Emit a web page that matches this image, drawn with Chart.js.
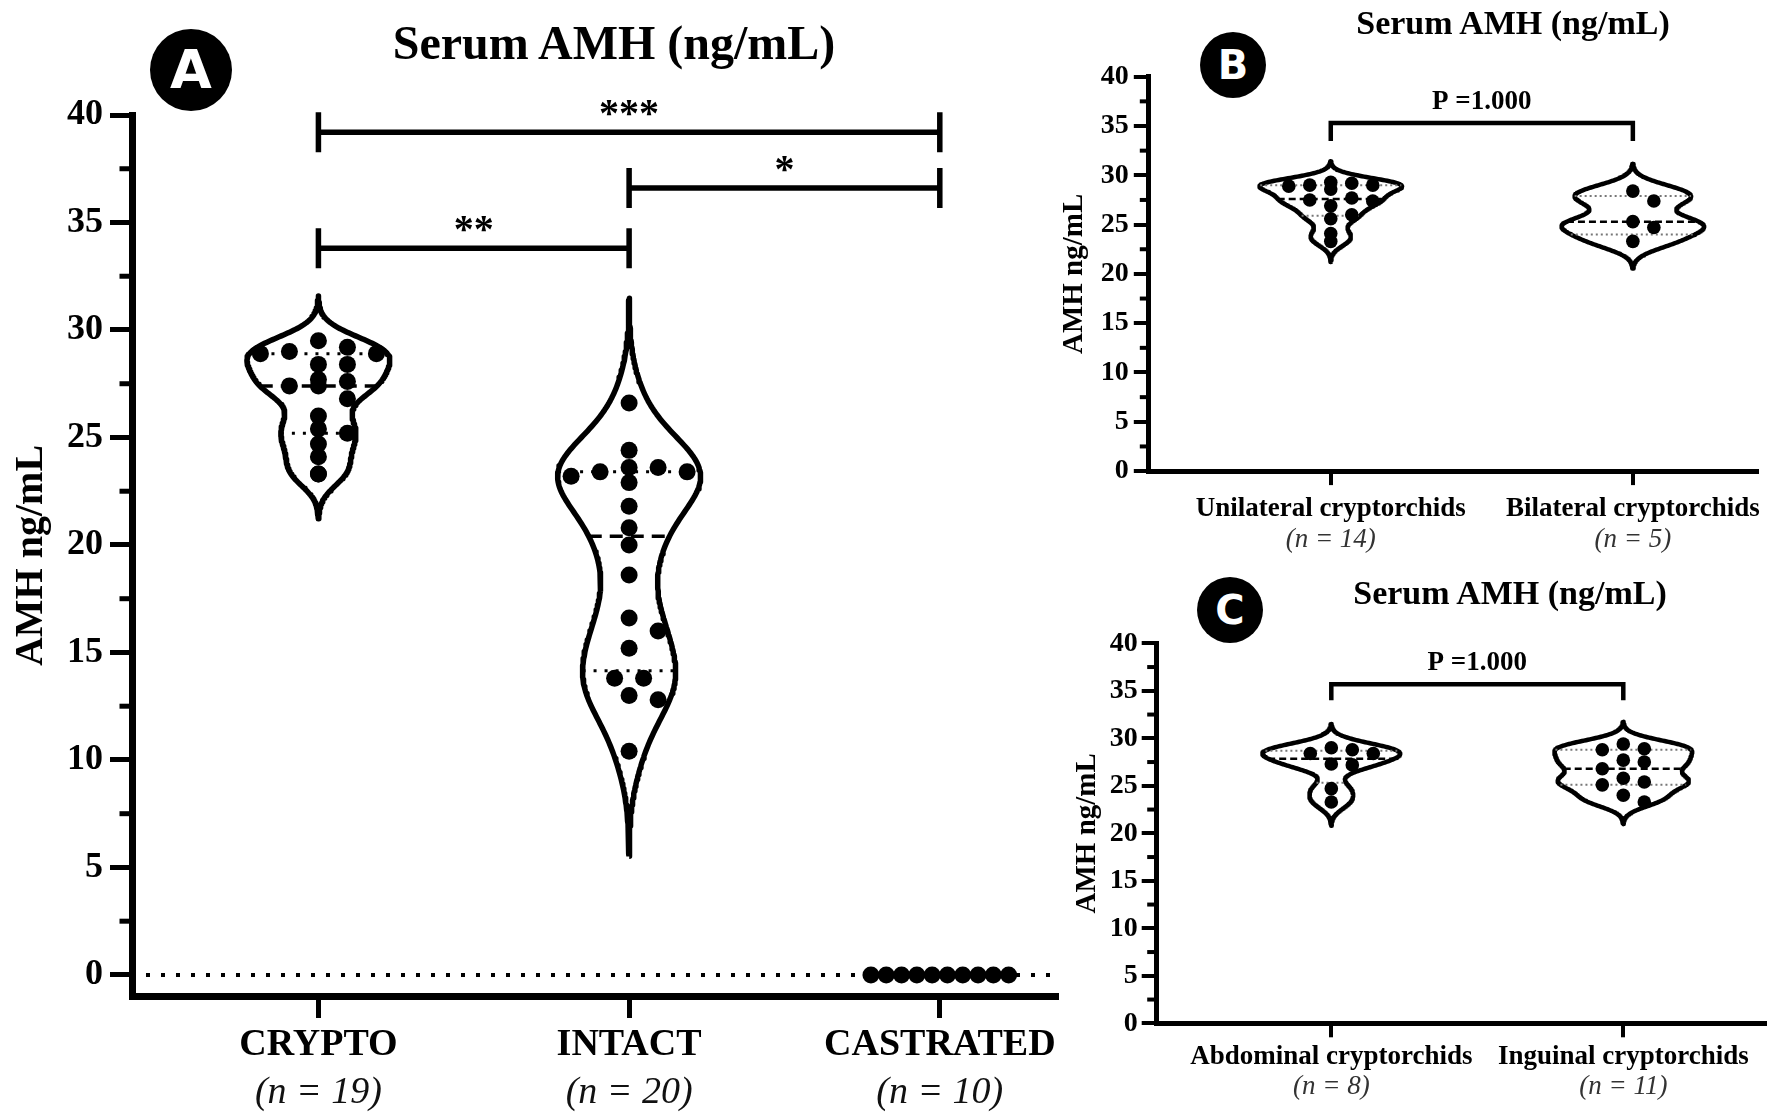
<!DOCTYPE html>
<html>
<head>
<meta charset="utf-8">
<script src="https://cdn.jsdelivr.net/npm/chart.js@4.4.1/dist/chart.umd.min.js"></script>
<style>
  html, body { margin: 0; padding: 0; background: #fff; }
  body { width: 1772px; height: 1119px; position: relative; overflow: hidden; }
  canvas { position: absolute; }
  .title { position: absolute; transform: translate(-50%, -50%); font-family: "Liberation Serif", serif;
           font-weight: bold; white-space: nowrap; line-height: 1; color: #000; }
  .badge { position: absolute; border-radius: 50%; background: #000; color: #fff;
           font-family: "DejaVu Sans", sans-serif; font-weight: bold;
           display: flex; align-items: center; justify-content: center; line-height: 1; }
</style>
</head>
<body>
<canvas id="chartA" width="1100" height="1119" style="left:0;top:0"></canvas>
<canvas id="chartB" width="722" height="562" style="left:1050px;top:0"></canvas>
<canvas id="chartC" width="722" height="559" style="left:1050px;top:560px"></canvas>

<div class="title" style="left:614px; top:43px; font-size:48px">Serum AMH (ng/mL)</div>
<div class="badge" style="left:150px; top:29px; width:82px; height:82px; font-size:54px">A</div>
<div class="title" style="left:1513px; top:23px; font-size:34px">Serum AMH (ng/mL)</div>
<div class="badge" style="left:1200px; top:32px; width:66px; height:66px; font-size:40px">B</div>
<div class="title" style="left:1510px; top:593px; font-size:34px">Serum AMH (ng/mL)</div>
<div class="badge" style="left:1197px; top:577px; width:66px; height:66px; font-size:40px">C</div>

<script>
// values (ng/mL)
const yTicks = [0, 5, 10, 15, 20, 25, 30, 35, 40];
const yMinorTicks = [2.5, 7.5, 12.5, 17.5, 22.5, 27.5, 32.5, 37.5];

const groupsA = ["CRYPTO", "INTACT", "CASTRATED"];
const countsA = ["(n = 19)", "(n = 20)", "(n = 10)"];
const crypto = [29.0, 29.5, 28.9, 29.2, 28.9, 28.4, 28.4, 27.7, 27.4, 27.4, 27.6, 26.8, 26.0, 25.2, 25.4, 24.7, 24.1, 23.3, 23.3];
const intact = [26.6, 24.4, 23.6, 23.4, 23.2, 23.6, 23.4, 22.9, 21.8, 20.8, 20.0, 18.6, 16.6, 16.0, 15.2, 13.8, 13.8, 13.0, 12.8, 10.4];
const castrated = [0, 0, 0, 0, 0, 0, 0, 0, 0, 0];

const groupsB = ["Unilateral cryptorchids", "Bilateral cryptorchids"];
const countsB = ["(n = 14)", "(n = 5)"];
const unilateral = [29.0, 29.0, 29.2, 29.3, 28.9, 28.6, 27.4, 27.7, 27.5, 26.9, 26.0, 25.6, 24.1, 23.3];
const bilateral = [28.4, 27.4, 25.3, 24.7, 23.3];

const groupsC = ["Abdominal cryptorchids", "Inguinal cryptorchids"];
const countsC = ["(n = 8)", "(n = 11)"];
const abdominal = [28.4, 28.8, 29.0, 28.4, 27.2, 27.3, 24.7, 23.3];
const inguinal = [28.8, 28.9, 29.4, 27.5, 27.7, 26.8, 25.8, 25.4, 25.1, 24.0, 23.3];

const SERIF = '"Liberation Serif", serif';
const SMOOTH = 0.68;

function stats(values) {
  const s = [...values].sort((a, b) => a - b);
  const n = s.length;
  const q = (p) => {
    const pos = (n + 1) * p;
    if (pos <= 1) return s[0];
    if (pos >= n) return s[n - 1];
    const i = Math.floor(pos);
    return s[i - 1] + (pos - i) * (s[i] - s[i - 1]);
  };
  const mean = s.reduce((a, b) => a + b, 0) / n;
  const sd = Math.sqrt(s.reduce((a, b) => a + (b - mean) ** 2, 0) / (n - 1));
  return { s, n, q1: q(0.25), med: q(0.5), q3: q(0.75), sd };
}

// gaussian kde outline, widest point scaled to `half` category units
function violin(values, center, half) {
  const st = stats(values);
  if (st.sd === 0) return null;
  const h = SMOOTH * 0.9 * Math.min(st.sd, (st.q3 - st.q1) / 1.34) * Math.pow(st.n, -0.2);
  const dens = (y) => st.s.reduce((a, v) => a + Math.exp(-0.5 * ((y - v) / h) ** 2), 0);
  const lo = st.s[0] - 3 * h;
  const hi = st.s[st.n - 1] + 3 * h;
  const ys = Array.from({ length: 241 }, (_, i) => lo + ((hi - lo) * i) / 240);
  const dmax = Math.max(...ys.map(dens));
  const w = (y) => (half * dens(y)) / dmax;
  const right = ys.map((y) => ({ x: center + w(y), y }));
  const left = ys.slice().reverse().map((y) => ({ x: center - w(y), y }));
  return { ...st, w, outline: right.concat(left, [right[0]]) };
}

const annotate = {
  id: "annotate",
  beforeDatasetsDraw(chart, args, opts) {
    if (!opts.zeroLine) return;
    const { ctx, chartArea, scales } = chart;
    const py = scales.y.getPixelForValue(0);
    ctx.save();
    ctx.strokeStyle = "#000";
    ctx.lineWidth = 4;
    ctx.setLineDash([4, 11]);
    ctx.beginPath();
    ctx.moveTo(chartArea.left + opts.zeroLine, py);
    ctx.lineTo(chartArea.right + 2, py);
    ctx.stroke();
    ctx.restore();
  },
  afterDraw(chart, args, opts) {
    const { ctx, chartArea, scales } = chart;
    const x = scales.x, y = scales.y;
    ctx.save();
    ctx.strokeStyle = "#000";
    ctx.fillStyle = "#000";

    // one minor tick between labelled ticks
    ctx.lineWidth = opts.tickWidth;
    yMinorTicks.forEach((v) => {
      const py = y.getPixelForValue(v);
      ctx.beginPath();
      ctx.moveTo(chartArea.left - opts.minorLen, py);
      ctx.lineTo(chartArea.left, py);
      ctx.stroke();
    });

    // significance brackets
    opts.brackets.forEach((b) => {
      const x1 = x.getPixelForValue(b.from);
      const x2 = x.getPixelForValue(b.to);
      const py = y.getPixelForValue(b.y);
      ctx.lineWidth = opts.bracketWidth;
      ctx.lineCap = "butt";
      ctx.lineJoin = "miter";
      ctx.beginPath();
      if (opts.capBoth) {
        ctx.moveTo(x1, py); ctx.lineTo(x2, py);
        ctx.moveTo(x1, py - opts.cap); ctx.lineTo(x1, py + opts.cap);
        ctx.moveTo(x2, py - opts.cap); ctx.lineTo(x2, py + opts.cap);
      } else {
        ctx.moveTo(x1, py + opts.cap);
        ctx.lineTo(x1, py);
        ctx.lineTo(x2, py);
        ctx.lineTo(x2, py + opts.cap);
      }
      ctx.stroke();
      ctx.font = opts.font;
      ctx.textAlign = "center";
      ctx.textBaseline = "alphabetic";
      ctx.fillText(b.text, (x1 + x2) / 2, py - opts.lift);
    });
    ctx.restore();
  },
};

// beeswarm the dots in pixel space, kept inside the violin where possible
function placeSwarm(chart, swarms, collide) {
  const xs = chart.scales.x, ys = chart.scales.y;
  const unit = xs.getPixelForValue(1) - xs.getPixelForValue(0);
  swarms.forEach((sw) => {
    const { values, center, step, w, r } = sw;
    const placed = [];
    const ks = [];
    const order = values.map((_, i) => i).sort((a, b) => values[b] - values[a]);
    order.forEach((i) => {
      const py = ys.getPixelForValue(values[i]);
      const room = w ? Math.max(0, (w(values[i]) * unit - r) / step) : Infinity;
      const gap = (k) => Math.min(Infinity, ...placed.filter((p) => Math.abs(p.k - k) < 0.9).map((p) => Math.abs(p.py - py)));
      let best = 0, bestGap = -1;
      for (let j = 0; j < 40; j++) {
        const k = j % 2 ? (j + 1) / 2 : -j / 2;
        if (j > 0 && Math.abs(k) > room) continue;
        const g = gap(k);
        if (g >= collide) { best = k; break; }
        if (g > bestGap) { best = k; bestGap = g; }
      }
      ks[i] = best;
      placed.push({ k: best, py });
    });

    // centre runs of identical values
    const byVal = {};
    values.forEach((v, i) => (byVal[v] = byVal[v] || []).push(i));
    Object.values(byVal).forEach((idx) => {
      if (idx.length < 2) return;
      const m = idx.reduce((a, i) => a + ks[i], 0) / idx.length;
      if (m === 0) return;
      const py = ys.getPixelForValue(values[idx[0]]);
      const clash = values.some((v, j) => !idx.includes(j) &&
        idx.some((i) => Math.abs(ks[j] - (ks[i] - m)) < 0.9 && Math.abs(ys.getPixelForValue(v) - py) < collide));
      if (!clash) idx.forEach((i) => { ks[i] -= m; });
    });

    sw.ds.data = values.map((v, i) => ({ x: center + (ks[i] * step) / unit, y: v }));
  });
  chart.update("none");
}

function buildPanel(canvasId, p) {
  const s = p.style;
  const datasets = [];
  const swarms = [];

  p.groups.forEach((values, gi) => {
    const center = gi + 1;
    const v = violin(values, center, s.half);
    const dots = {
      data: values.map((y) => ({ x: center, y })),
      pointRadius: s.dot,
      pointBackgroundColor: "#000",
      pointBorderWidth: 0,
      order: 0,
    };
    datasets.push(dots);
    swarms.push({ ds: dots, values, center, step: v ? s.step : s.flatStep, w: v ? v.w : null, r: s.dot });
    if (!v) return;

    datasets.push({
      data: v.outline,
      showLine: true,
      pointRadius: 0,
      borderColor: "#000",
      borderWidth: s.outline,
      borderJoinStyle: "round",
      tension: 0,
      fill: false,
      order: 3,
    });
    [[v.q1, false], [v.q3, false], [v.med, true]].forEach(([yv, isMed]) => {
      datasets.push({
        data: [{ x: center - v.w(yv), y: yv }, { x: center + v.w(yv), y: yv }],
        showLine: true,
        pointRadius: 0,
        borderColor: isMed ? "#000" : s.qColor,
        borderWidth: isMed ? s.medWidth : s.qWidth,
        borderDash: isMed ? s.medDash : s.qDash,
        order: 2,
      });
    });
  });

  const catTicks = (axis) => { axis.ticks = p.labels.map((_, i) => ({ value: i + 1 })); };

  const chart = new Chart(document.getElementById(canvasId), {
    type: "scatter",
    data: { datasets },
    options: {
      responsive: false,
      animation: false,
      events: [],
      layout: { padding: p.padding },
      plugins: {
        legend: { display: false },
        tooltip: { enabled: false },
        annotate: p.annot,
      },
      scales: {
        x: {
          type: "linear",
          position: "bottom",
          min: p.xMin,
          max: p.xMax,
          afterBuildTicks: catTicks,
          afterFit: (a) => { a.height = s.xh; },
          border: { display: true, color: "#000", width: s.axisW },
          grid: { display: true, drawOnChartArea: false, drawTicks: true, tickLength: s.xTick,
                  tickWidth: s.tickW, lineWidth: s.tickW, color: "#000", tickColor: "#000" },
          ticks: {
            callback: (val) => p.labels[val - 1],
            font: { family: SERIF, weight: "bold", size: s.xFont, lineHeight: s.labelLH },
            color: "#000",
            padding: s.xPad,
            maxRotation: 0,
            autoSkip: false,
          },
        },
        x2: {
          type: "linear",
          position: "bottom",
          weight: 1,
          min: p.xMin,
          max: p.xMax,
          afterBuildTicks: catTicks,
          afterFit: (a) => { a.height = s.x2h; },
          border: { display: false },
          grid: { display: false, drawTicks: false },
          ticks: {
            callback: (val) => p.counts[val - 1],
            font: { family: SERIF, style: "italic", size: s.nFont, lineHeight: s.labelLH },
            color: s.nColor,
            padding: s.x2Pad,
            maxRotation: 0,
            autoSkip: false,
          },
        },
        y: {
          min: p.yMin,
          max: 40,
          afterBuildTicks: (a) => { a.ticks = yTicks.map((v) => ({ value: v })); },
          afterFit: (a) => { a.width = s.yw; },
          border: { display: true, color: "#000", width: s.axisW },
          grid: { display: true, drawOnChartArea: false, drawTicks: true, tickLength: s.yTick,
                  tickWidth: s.tickW, lineWidth: s.tickW, color: "#000", tickColor: "#000" },
          ticks: {
            callback: (val) => String(val),
            font: { family: SERIF, weight: "bold", size: s.yFont },
            color: "#000",
            padding: s.yPad,
          },
          title: {
            display: true,
            text: "AMH ng/mL",
            color: "#000",
            font: { family: SERIF, weight: "bold", size: s.titleFont },
            padding: { top: s.titlePad, bottom: 0 },
          },
        },
      },
    },
    plugins: [annotate],
  });

  placeSwarm(chart, swarms, s.collide);
  return chart;
}

const styleA = {
  half: 0.23, dot: 8.5, step: 29, flatStep: 15.3, collide: 14, outline: 5.5,
  qColor: "#000", qWidth: 3, qDash: [3, 8], medWidth: 3.5, medDash: [13, 8],
  axisW: 7, tickW: 5, xTick: 22, yTick: 22,
  xh: 70, x2h: 50, yw: 132, labelLH: 1.2,
  xFont: 38, nFont: 38, yFont: 36, titleFont: 40,
  xPad: 4.5, x2Pad: 4, yPad: 7, titlePad: 8, nColor: "#111",
};

// small panels: label line height 1 so each label sits inside its own axis box
const styleSmall = {
  half: 0.236, dot: 6.8, step: 21, flatStep: 13, collide: 12, outline: 4.5,
  qColor: "#777", qWidth: 2, qDash: [2, 3], medWidth: 2.5, medDash: [7, 4],
  axisW: 5, tickW: 4, xTick: 14, yTick: 14.5,
  xh: 55, x2h: 32, yw: 98.3, labelLH: 1,
  xFont: 27, nFont: 27, yFont: 28, titleFont: 29,
  xPad: 10.9, x2Pad: 0.4, yPad: 5, titlePad: 7, nColor: "#333",
};

buildPanel("chartA", {
  groups: [crypto, intact, castrated],
  labels: groupsA,
  counts: countsA,
  xMin: 0.4, xMax: 3.374, yMin: -0.98,
  padding: { top: 115, right: 44, bottom: 3, left: 0 },
  style: styleA,
  annot: {
    zeroLine: 14, minorLen: 12.5, tickWidth: 5,
    capBoth: true, cap: 20, bracketWidth: 5.5, lift: 6,
    font: 'bold 40px "Liberation Serif"',
    brackets: [
      { from: 1, to: 3, y: 39.2, text: "***" },
      { from: 2, to: 3, y: 36.6, text: "*" },
      { from: 1, to: 2, y: 33.8, text: "**" },
    ],
  },
});

buildPanel("chartB", {
  groups: [unilateral, bilateral],
  labels: groupsB,
  counts: countsB,
  xMin: 0.396, xMax: 2.41, yMin: 0,
  padding: { top: 76.7, right: 2, bottom: 3.9, left: 0 },
  style: styleSmall,
  annot: {
    zeroLine: 0, minorLen: 8.5, tickWidth: 4,
    capBoth: false, cap: 18, bracketWidth: 4.5, lift: 14,
    font: 'bold 27px "Liberation Serif"',
    brackets: [{ from: 1, to: 2, y: 35.3, text: "P =1.000" }],
  },
});

buildPanel("chartC", {
  groups: [abdominal, inguinal],
  labels: groupsC,
  counts: countsC,
  xMin: 0.402, xMax: 2.486, yMin: 0,
  padding: { top: 83.3, right: 2, bottom: 1.2, left: 0 },
  style: { ...styleSmall, yw: 106.7, yTick: 15, yPad: 4, xh: 51.2, x2h: 43.3, xPad: 6.7, x2Pad: -1, titlePad: 20 },
  annot: {
    zeroLine: 0, minorLen: 9.5, tickWidth: 4,
    capBoth: false, cap: 16, bracketWidth: 4.5, lift: 14,
    font: 'bold 27px "Liberation Serif"',
    brackets: [{ from: 1, to: 2, y: 35.7, text: "P =1.000" }],
  },
});
</script>
</body>
</html>
